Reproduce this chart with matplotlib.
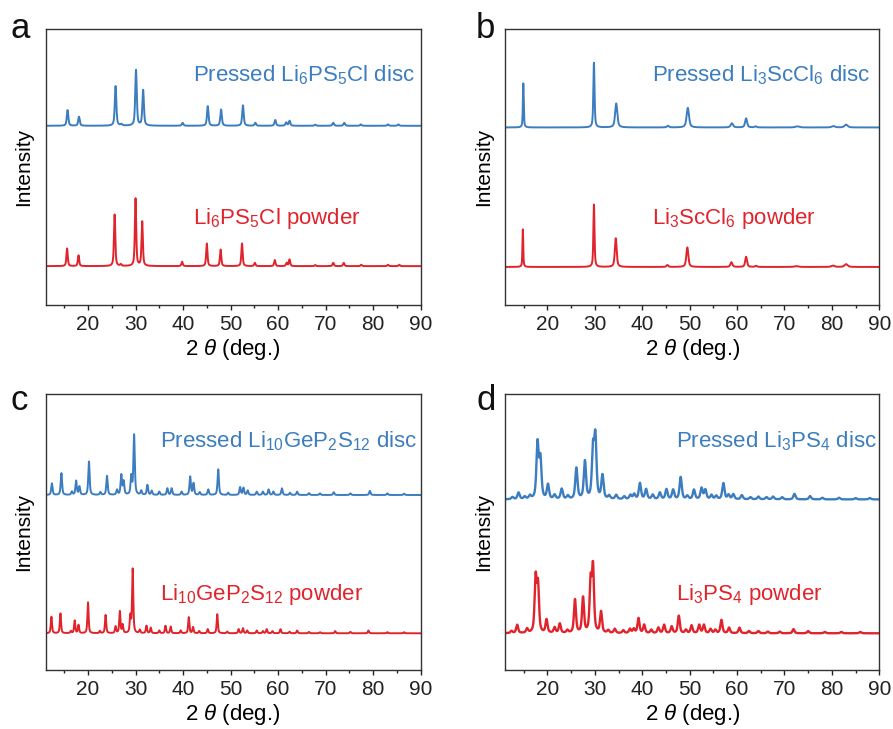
import numpy as np
import matplotlib
matplotlib.use("Agg")
import matplotlib.pyplot as plt

plt.rcParams["font.family"] = ["Liberation Sans", "DejaVu Sans"]
plt.rcParams["mathtext.fontset"] = "custom"
plt.rcParams["mathtext.rm"] = "Liberation Sans"
plt.rcParams["mathtext.it"] = "Liberation Sans:italic"
plt.rcParams["mathtext.default"] = "regular"

BLUE = "#3b7dbf"
RED = "#e1232b"

# ---- peak tables (2theta in deg., height in plot units) ----
# (a) Li6PS5Cl
a_disc_pos = [15.7, 18.1, 25.8, 27.0, 30.1, 31.6, 39.9, 45.2, 48.0, 52.6, 55.2, 59.4, 61.7, 62.4, 67.8, 71.6, 73.9, 77.4, 83.1, 85.3]
a_disc_hgt = [5.7, 3.3, 14.4, 0.5, 20.2, 12.9, 1.1, 7.1, 5.9, 7.4, 1.1, 2.1, 1.2, 1.8, 0.4, 1.1, 1.1, 0.5, 0.5, 0.5]
a_pow_pos = [15.6, 18.0, 25.6, 26.9, 30.0, 31.4, 39.8, 45.0, 47.9, 52.4, 55.1, 59.3, 61.8, 62.4, 67.8, 71.6, 73.8, 77.5, 83.1, 85.5]
a_pow_hgt = [6.4, 3.9, 18.7, 0.6, 24.5, 16.1, 1.6, 8.2, 6.0, 8.2, 1.2, 2.2, 1.2, 2.4, 0.4, 1.2, 1.2, 0.5, 0.5, 0.5]

# (b) Li3ScCl6
b_disc_pos = [14.9, 29.8, 34.5, 45.4, 49.6, 58.9, 61.9, 63.9, 72.7, 80.3, 83.0]
b_disc_hgt = [16.0, 23.5, 8.7, 0.6, 7.1, 1.5, 3.3, 0.4, 0.4, 0.5, 1.0]
b_disc_wid = [0.22, 0.3, 0.55, 0.5, 0.6, 0.6, 0.5, 0.5, 1.0, 0.8, 0.8]
b_pow_pos = [14.8, 29.8, 34.4, 45.3, 49.5, 58.8, 61.9, 64.0, 72.5, 80.2, 83.0]
b_pow_hgt = [13.7, 22.7, 10.4, 0.7, 7.1, 1.7, 3.7, 0.4, 0.3, 0.5, 1.0]
b_pow_wid = [0.2, 0.28, 0.45, 0.45, 0.5, 0.5, 0.45, 0.5, 1.0, 0.8, 0.8]

# (c) Li10GeP2S12
c_disc_pos = [12.4, 14.4, 16.6, 17.5, 18.2, 20.2, 22.6, 24.0, 26.1, 27.0, 27.5, 29.1, 29.7, 31.2, 32.5, 33.4,
              35.0, 36.7, 37.6, 39.7, 41.5, 42.2, 43.5, 45.3, 47.4, 49.5, 52.0, 52.7, 53.6, 55.5, 56.8, 58.0, 59.0,
              60.8, 62.5, 64.0, 66.5, 68.8, 71.7, 75.2, 79.3, 83.0, 86.5]
c_disc_hgt = [4.2, 7.9, 1.2, 5.1, 3.0, 12.1, 1.0, 6.9, 1.8, 7.2, 4.8, 6.6, 21.7, 1.5, 3.6, 1.5,
              1.2, 2.4, 2.4, 1.2, 6.6, 4.2, 1.0, 2.0, 9.3, 0.8, 2.8, 2.6, 1.6, 1.2, 1.2, 2.0, 1.2,
              2.4, 0.8, 1.2, 0.7, 0.6, 1.0, 0.6, 1.5, 0.6, 0.5]
c_pow_pos = [12.3, 14.2, 16.4, 17.2, 18.0, 20.0, 22.5, 23.7, 25.8, 26.7, 27.3, 28.9, 29.4, 30.9, 32.3, 33.2,
             35.0, 36.3, 37.4, 39.5, 41.2, 42.1, 43.4, 45.2, 47.2, 49.3, 51.7, 52.6, 53.5, 55.5, 56.8, 57.6, 58.8,
             60.5, 62.4, 64.0, 66.5, 68.8, 72.0, 75.2, 79.0, 83.0, 86.5]
c_pow_hgt = [6.0, 7.2, 0.8, 4.6, 3.0, 11.2, 0.8, 6.6, 2.4, 7.9, 3.0, 6.0, 23.2, 1.2, 2.7, 2.0,
             1.0, 2.7, 2.4, 1.0, 5.8, 2.2, 0.8, 1.5, 6.9, 0.6, 1.5, 1.8, 1.0, 1.0, 0.8, 1.5, 0.8,
             1.5, 0.6, 1.0, 0.5, 0.4, 0.8, 0.5, 1.0, 0.4, 0.4]

# (d) Li3PS4
d_disc_pos = [12.6, 13.9, 15.2, 16.3, 17.9, 18.5, 20.1, 21.5, 23.0, 24.3, 26.1, 27.9, 29.6, 30.1, 31.6, 33.0, 34.5,
              36.2, 37.5, 38.3, 39.5, 40.8, 42.2, 43.7, 45.1, 46.5, 48.1, 49.5, 50.9, 52.5, 53.3, 54.6, 55.6,
              57.1, 58.2, 59.2, 61.0, 62.8, 64.5, 66.2, 67.6, 69.5, 72.1, 75.4, 78.0, 81.5, 85.0, 88.0]
d_disc_hgt = [0.8, 2.4, 0.9, 1.2, 20.0, 14.2, 5.2, 1.5, 3.7, 1.2, 11.2, 13.6, 17.3, 21.7, 8.5, 1.2, 1.5,
              1.0, 1.5, 1.8, 5.8, 3.6, 1.6, 2.4, 3.6, 3.4, 8.0, 1.2, 3.4, 4.0, 3.4, 1.5, 1.2,
              5.8, 1.6, 1.8, 1.5, 0.8, 1.0, 0.8, 1.0, 0.8, 2.0, 1.2, 0.6, 0.6, 0.5, 0.5]
d_pow_pos = [12.4, 13.6, 15.7, 17.5, 18.0, 19.8, 21.5, 22.6, 24.2, 25.8, 27.5, 29.1, 29.6, 31.3, 32.8, 34.2,
             36.0, 37.4, 38.2, 39.2, 40.4, 41.9, 43.4, 44.6, 46.2, 47.7, 49.2, 50.4, 52.0, 53.0, 54.4, 55.4,
             56.7, 58.3, 60.5, 62.5, 64.5, 66.5, 69.0, 71.9, 75.0, 78.5, 82.0, 86.0]
d_pow_hgt = [0.8, 3.0, 1.5, 19.7, 16.9, 4.8, 2.0, 3.4, 1.0, 12.1, 12.7, 18.1, 23.2, 7.6, 1.0, 1.5,
             1.0, 1.5, 1.5, 5.4, 3.0, 1.2, 2.0, 3.0, 2.4, 6.3, 1.2, 2.8, 3.0, 3.0, 1.5, 1.2,
             4.8, 2.0, 2.0, 0.8, 0.8, 0.6, 0.6, 1.5, 0.8, 0.5, 0.5, 0.5]

# baseline offsets of the two traces in each panel
offsets = {
    "a": (65.0, 14.1),
    "b": (64.4, 13.8),
    "c": (63.4, 13.3),
    "d": (61.8, 13.3),
}

disc_labels = {
    "a": "Pressed Li$_6$PS$_5$Cl disc",
    "b": "Pressed Li$_3$ScCl$_6$ disc",
    "c": "Pressed Li$_{10}$GeP$_2$S$_{12}$ disc",
    "d": "Pressed Li$_3$PS$_4$ disc",
}
powder_labels = {
    "a": "Li$_6$PS$_5$Cl powder",
    "b": "Li$_3$ScCl$_6$ powder",
    "c": "Li$_{10}$GeP$_2$S$_{12}$ powder",
    "d": "Li$_3$PS$_4$ powder",
}

two_theta = np.linspace(11.0, 90.0, 5000)


def pattern(pos, hgt, wid):
    """Sum of pseudo-Voigt reflections."""
    y = np.zeros_like(two_theta)
    if np.isscalar(wid):
        wid = [wid] * len(pos)
    for p, h, w in zip(pos, hgt, wid):
        g = np.exp(-4 * np.log(2) * ((two_theta - p) / w) ** 2)
        lo = 1.0 / (1.0 + 4 * ((two_theta - p) / w) ** 2)
        y += h * (0.6 * lo + 0.4 * g)
    return y


traces = {
    "a": (pattern(a_disc_pos, a_disc_hgt, 0.38), pattern(a_pow_pos, a_pow_hgt, 0.33)),
    "b": (pattern(b_disc_pos, b_disc_hgt, b_disc_wid), pattern(b_pow_pos, b_pow_hgt, b_pow_wid)),
    "c": (pattern(c_disc_pos, c_disc_hgt, 0.34), pattern(c_pow_pos, c_pow_hgt, 0.3)),
    "d": (pattern(d_disc_pos, d_disc_hgt, 0.55), pattern(d_pow_pos, d_pow_hgt, 0.5)),
}

W, H = 893, 729
fig = plt.figure(figsize=(W / 100, H / 100), dpi=100)

boxes = {
    "a": (45.7, 29.3, 420.7, 305.0),
    "b": (505.3, 29.3, 879.3, 305.0),
    "c": (45.7, 394.0, 420.7, 670.0),
    "d": (505.3, 394.0, 879.3, 670.0),
}
label_x = {"a": 0.393, "b": 0.391, "c": 0.305, "d": 0.456}
label_y = {"a": (0.81, 0.294), "b": (0.81, 0.294), "c": (0.807, 0.254), "d": (0.807, 0.254)}
letter_pos = {"a": (10, 38), "b": (476, 38), "c": (10, 410), "d": (476, 410)}
line_w = {"a": 1.4, "b": 1.4, "c": 1.4, "d": 1.7}

for key, (x0, y0, x1, y1) in boxes.items():
    ax = fig.add_axes([x0 / W, 1 - y1 / H, (x1 - x0) / W, (y1 - y0) / H])
    disc, powder = traces[key]
    off_d, off_p = offsets[key]
    ax.plot(two_theta, disc + off_d, color=BLUE, lw=line_w[key])
    ax.plot(two_theta, powder + off_p, color=RED, lw=line_w[key])
    ax.set_xlim(11.1, 90)
    ax.set_ylim(0, 100)
    ax.set_yticks([])
    ax.set_xticks(np.arange(20, 91, 10))
    ax.set_xticks(np.arange(15, 90, 10), minor=True)
    ax.tick_params(axis="x", which="major", direction="out", length=3.5, width=1,
                   labelsize=15, pad=4, colors="#222222")
    ax.tick_params(axis="x", which="minor", direction="out", length=2, width=1, colors="#222222")
    for s in ax.spines.values():
        s.set_color("#333333")
        s.set_linewidth(1.0)
    ax.set_xlabel(r"2 $\mathit{\theta}$ (deg.)", fontsize=16, labelpad=2)
    ax.set_ylabel("Intensity", fontsize=15, labelpad=9)
    ax.text(label_x[key], label_y[key][0], disc_labels[key], transform=ax.transAxes,
            color=BLUE, fontsize=16, ha="left", va="baseline")
    ax.text(label_x[key], label_y[key][1], powder_labels[key], transform=ax.transAxes,
            color=RED, fontsize=16, ha="left", va="baseline")
    lx, ly = letter_pos[key]
    fig.text(lx / W, 1 - ly / H, key, fontsize=25, ha="left", va="baseline", color="#111111")

fig.savefig("out.png", dpi=100)
